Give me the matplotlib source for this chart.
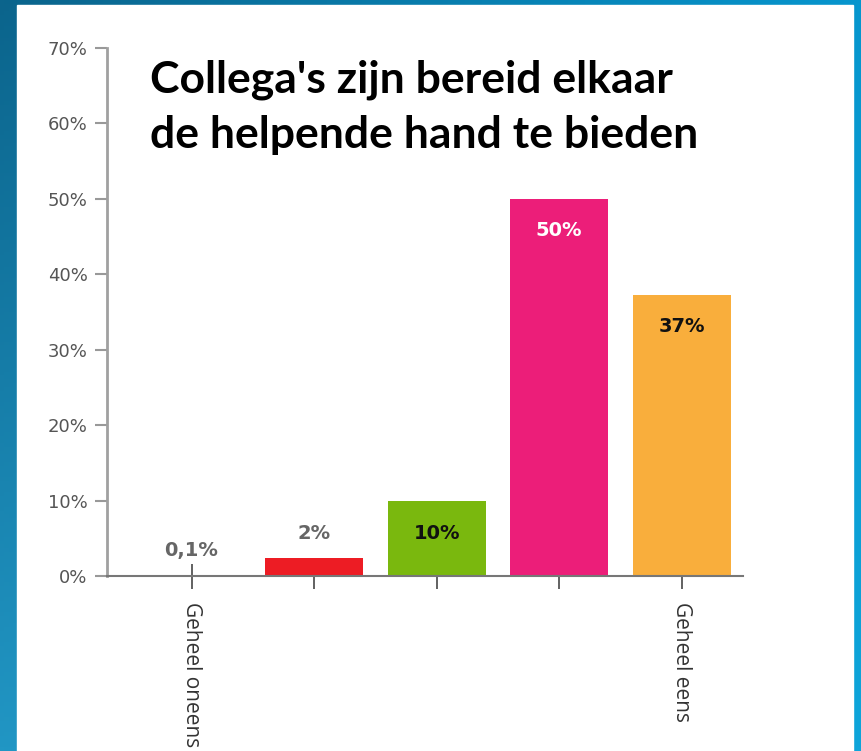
import numpy as np
import matplotlib
matplotlib.use('Agg')
import matplotlib.pyplot as plt
from matplotlib.patches import Rectangle

# data
categories = ['Geheel oneens', '', '', '', 'Geheel eens']
values = [0.1, 2.4, 9.9, 50.0, 37.3]
labels = ['0,1%', '2%', '10%', '50%', '37%']
colors = ['#9a9a9a', '#ED1C24', '#7AB80E', '#EC1E79', '#F9AE3C']
label_colors = ['#666666', '#666666', '#111111', '#ffffff', '#111111']
label_inside = [False, False, True, True, True]
yticks = [0, 10, 20, 30, 40, 50, 60, 70]

W, H = 861, 751
fig = plt.figure(figsize=(W / 100, H / 100), dpi=100)

# blue gradient background
bg = fig.add_axes([0, 0, 1, 1])
bg.set_axis_off()
gx, gy = np.meshgrid(np.linspace(0, 1, 200), np.linspace(0, 1, 200))
c_tl = np.array([11, 100, 140]) / 255
c_tr = np.array([6, 150, 206]) / 255
c_bl = np.array([33, 150, 196]) / 255
c_br = np.array([14, 165, 218]) / 255
img = (c_tl * ((1 - gx) * (1 - gy))[..., None] + c_tr * (gx * (1 - gy))[..., None]
       + c_bl * ((1 - gx) * gy)[..., None] + c_br * (gx * gy)[..., None])
bg.imshow(img, extent=[0, 1, 0, 1], aspect='auto')
bg.add_patch(Rectangle((17 / W, 0), (853 - 17) / W, 1 - 5 / H, color='white', zorder=2))
bg.set_xlim(0, 1)
bg.set_ylim(0, 1)

ax = fig.add_axes([107 / W, 1 - 576 / H, (743 - 107) / W, (576 - 48) / H])
ax.patch.set_alpha(0)
x = np.arange(len(values))
ax.bar(x, values, width=0.8, color=colors, zorder=2)

for i, v in enumerate(values):
    if label_inside[i]:
        ax.text(i, v - 4.2, labels[i], ha='center', va='center', fontsize=14,
                fontweight='bold', color=label_colors[i])
    else:
        ax.text(i, v + 3.3, labels[i], ha='center', va='center', fontsize=14,
                fontweight='bold', color=label_colors[i])

ax.set_xlim(-0.69, 4.5)
ax.set_ylim(0, 70)
ax.set_yticks(yticks)
ax.set_yticklabels([f'{t}%' for t in yticks], fontsize=13, color='#555555')
ax.set_xticks(x)
ax.set_xticklabels(categories, rotation=270, fontsize=15, color='#333333',
                   family='Open Sans', va='top')
ax.tick_params(axis='y', length=9, width=1.5, color='#999999', pad=5)
ax.tick_params(axis='x', direction='inout', length=18, width=1.3, color='#555555', pad=10)
for s in ['top', 'right']:
    ax.spines[s].set_visible(False)
ax.spines['left'].set_color('#a0a0a0')
ax.spines['left'].set_linewidth(2)
ax.spines['bottom'].set_color('#777777')
ax.spines['bottom'].set_linewidth(1.5)

fig.text(150 / W, 1 - 60 / H, "Collega's zijn bereid elkaar\nde helpende hand te bieden",
         family='Lato', fontweight='bold', fontsize=32, color='black',
         ha='left', va='top', linespacing=1.45)

fig.savefig('out.png', dpi=100)
